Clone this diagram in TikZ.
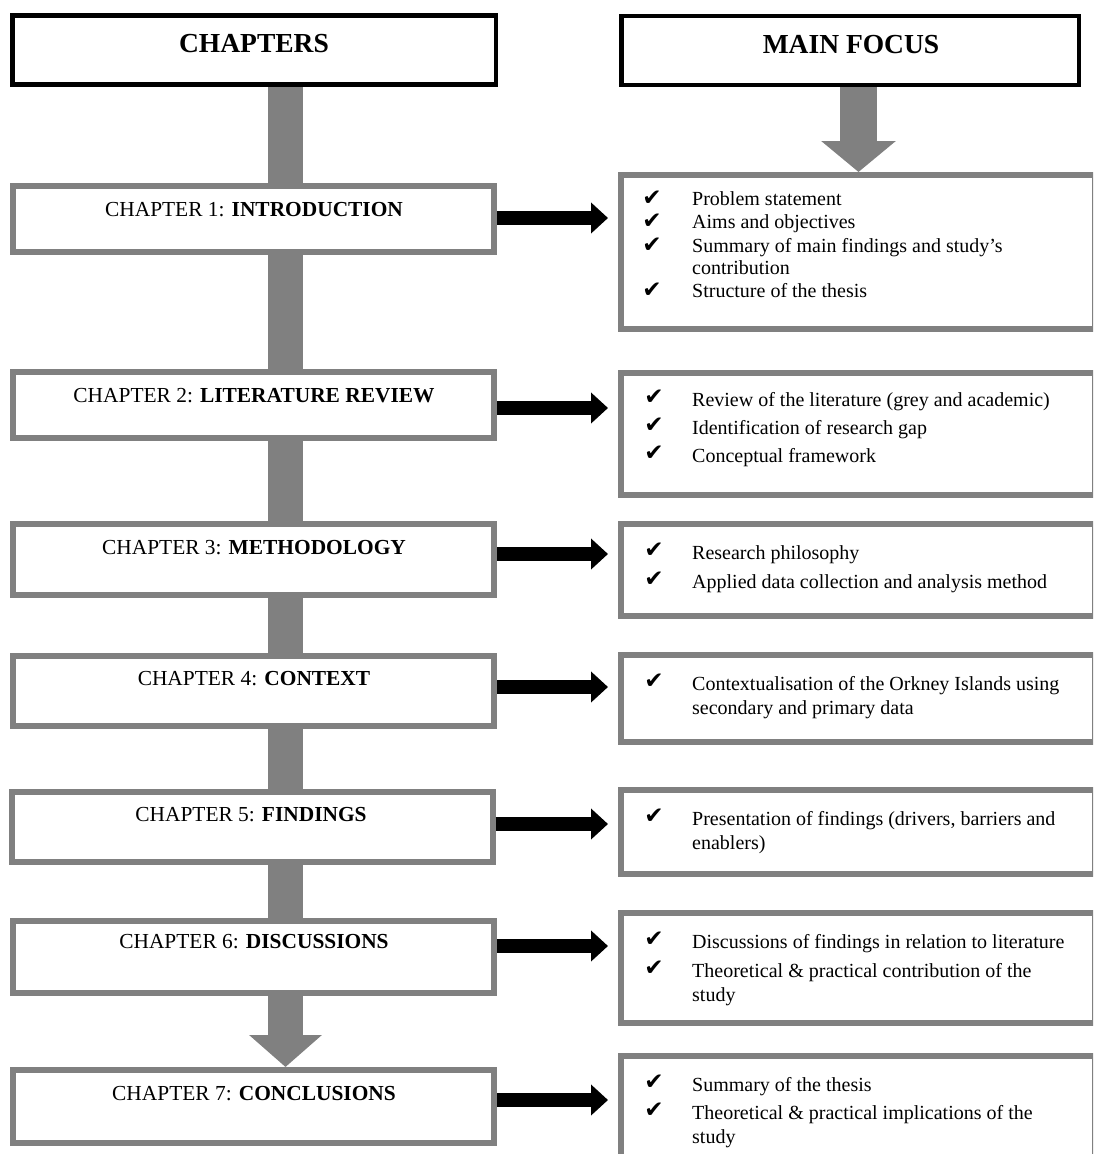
\documentclass[tikz,border=0pt]{standalone}
\usepackage{fontspec}
\setmainfont{Liberation Serif}
\newfontfamily\symfont{DejaVu Sans}
\usetikzlibrary{arrows.meta}
\definecolor{boxgrey}{HTML}{808080}
\pgfdeclarelayer{bg}
\pgfsetlayers{bg,main}

\tikzset{
  headbox/.style={draw=black, line width=4.5pt, fill=white, inner sep=0pt,
    minimum height=69pt},
  headtext/.style={inner sep=0pt, font=\fontsize{27.5}{30}\selectfont\bfseries},
  chapbox/.style={draw=boxgrey, line width=6pt, fill=white, inner sep=0pt,
    minimum width=481pt, minimum height=#1},
  chaptext/.style={inner sep=0pt, font=\fontsize{21.4}{24}\selectfont},
  focusbox/.style={draw=boxgrey, line width=6pt, fill=white, inner sep=0pt,
    minimum width=474pt, minimum height=#1},
  itemtext/.style={anchor=base west, inner sep=0pt, font=\fontsize{20}{23}\selectfont},
  tick/.style={anchor=base, inner sep=0pt, font=\symfont\fontsize{23}{23}\selectfont},
  flowbar/.style={draw=boxgrey, line width=#1, line cap=butt},
  linkarrow/.style={draw=black, line width=14pt,
    -{Triangle[width=30pt,length=17pt]}, shorten >=10pt}
}

\begin{document}
\begin{tikzpicture}[x=1pt,y=-1pt]
\useasboundingbox (0,0) rectangle (1093,1154);
\clip (0,0) rectangle (1093,1154);

% column headers
\node[headbox, minimum width=483.5pt] (hc) at (254,50) {};
\node[headtext] (hct) at (254,44) {CHAPTERS};
\node[headbox, minimum width=457.5pt] (hf) at (850,50.5) {};
\node[headtext] (hft) at (851,45) {MAIN FOCUS};

% chapter boxes
\node[chapbox=66pt] (l1) at (253.5,219) {};
\node[chapbox=66pt] (l2) at (253.5,405) {};
\node[chapbox=71pt] (l3) at (253.5,559.5) {};
\node[chapbox=70pt] (l4) at (253.5,691) {};
\node[chapbox=70pt] (l5) at (252,827) {};
\node[chapbox=72pt] (l6) at (253.5,957) {};
\node[chapbox=73pt] (l7) at (253.5,1106.5) {};

\node[chaptext] (c1) at (254,210) {CHAPTER 1: \textbf{INTRODUCTION}};
\node[chaptext] (c2) at (254,396) {CHAPTER 2: \textbf{LITERATURE REVIEW}};
\node[chaptext] (c3) at (254,548) {CHAPTER 3: \textbf{METHODOLOGY}};
\node[chaptext] (c4) at (254,679) {CHAPTER 4: \textbf{CONTEXT}};
\node[chaptext] (c5) at (251,815) {CHAPTER 5: \textbf{FINDINGS}};
\node[chaptext] (c6) at (254,942) {CHAPTER 6: \textbf{DISCUSSIONS}};
\node[chaptext] (c7) at (254,1094) {CHAPTER 7: \textbf{CONCLUSIONS}};

% focus boxes
\node[focusbox=154pt] (r1) at (858,252) {};
\node[focusbox=122pt] (r2) at (858,434) {};
\node[focusbox=92pt]  (r3) at (858,570) {};
\node[focusbox=87pt]  (r4) at (858,698.5) {};
\node[focusbox=84pt]  (r5) at (858,832) {};
\node[focusbox=110pt] (r6) at (858,968) {};
\node[focusbox=103pt] (r7) at (858,1107.5) {};

% focus items
\node[tick] (k1a) at (652,205) {✔};
\node[itemtext] (t1a) at (692,205) {Problem statement};
\node[tick] (k1b) at (652,228) {✔};
\node[itemtext] (t1b) at (692,228) {Aims and objectives};
\node[tick] (k1c) at (652,252) {✔};
\node[itemtext] (t1c) at (692,252) {Summary of main findings and study’s};
\node[itemtext] (t1d) at (692,274) {contribution};
\node[tick] (k1e) at (652,297) {✔};
\node[itemtext] (t1e) at (692,297) {Structure of the thesis};

\node[tick] (k2a) at (654,404) {✔};
\node[itemtext] (t2a) at (692,406) {Review of the literature (grey and academic)};
\node[tick] (k2b) at (654,432) {✔};
\node[itemtext] (t2b) at (692,434) {Identification of research gap};
\node[tick] (k2c) at (654,460) {✔};
\node[itemtext] (t2c) at (692,462) {Conceptual framework};

\node[tick] (k3a) at (654,557) {✔};
\node[itemtext] (t3a) at (692,559) {Research philosophy};
\node[tick] (k3b) at (654,586) {✔};
\node[itemtext] (t3b) at (692,588) {Applied data collection and analysis method};

\node[tick] (k4a) at (654,688) {✔};
\node[itemtext] (t4a) at (692,690) {Contextualisation of the Orkney Islands using};
\node[itemtext] (t4b) at (692,714) {secondary and primary data};

\node[tick] (k5a) at (654,823) {✔};
\node[itemtext] (t5a) at (692,825) {Presentation of findings (drivers, barriers and};
\node[itemtext] (t5b) at (692,849) {enablers)};

\node[tick] (k6a) at (654,946) {✔};
\node[itemtext] (t6a) at (692,948) {Discussions of findings in relation to literature};
\node[tick] (k6b) at (654,975) {✔};
\node[itemtext] (t6b) at (692,977) {Theoretical \& practical contribution of the};
\node[itemtext] (t6c) at (692,1001) {study};

\node[tick] (k7a) at (654,1089) {✔};
\node[itemtext] (t7a) at (692,1091) {Summary of the thesis};
\node[tick] (k7b) at (654,1117) {✔};
\node[itemtext] (t7b) at (692,1119) {Theoretical \& practical implications of the};
\node[itemtext] (t7c) at (692,1143) {study};

% grey flow arrows behind the boxes
\coordinate (lx) at (285.5,0);
\coordinate (rx) at (858.5,0);
\begin{pgfonlayer}{bg}
  \draw[flowbar=35pt, -{Triangle[width=71pt,length=32pt]}]
    (lx |- hc.south) -- (lx |- l7.north);
  \draw[flowbar=37pt, -{Triangle[width=73pt,length=31pt]}]
    (rx |- hf.south) -- (rx |- r1.north);
\end{pgfonlayer}

% black arrows from chapters to their focus
\coordinate (a1) at (0,218);
\coordinate (a2) at (0,408);
\coordinate (a3) at (0,554);
\coordinate (a4) at (0,687);
\coordinate (a5) at (0,824);
\coordinate (a6) at (0,946);
\coordinate (a7) at (0,1100);
\draw[linkarrow] (l1.east |- a1) -- (r1.west |- a1);
\draw[linkarrow] (l2.east |- a2) -- (r2.west |- a2);
\draw[linkarrow] (l3.east |- a3) -- (r3.west |- a3);
\draw[linkarrow] (l4.east |- a4) -- (r4.west |- a4);
\draw[linkarrow] (l5.east |- a5) -- (r5.west |- a5);
\draw[linkarrow] (l6.east |- a6) -- (r6.west |- a6);
\draw[linkarrow] (l7.east |- a7) -- (r7.west |- a7);
\end{tikzpicture}
\end{document}
